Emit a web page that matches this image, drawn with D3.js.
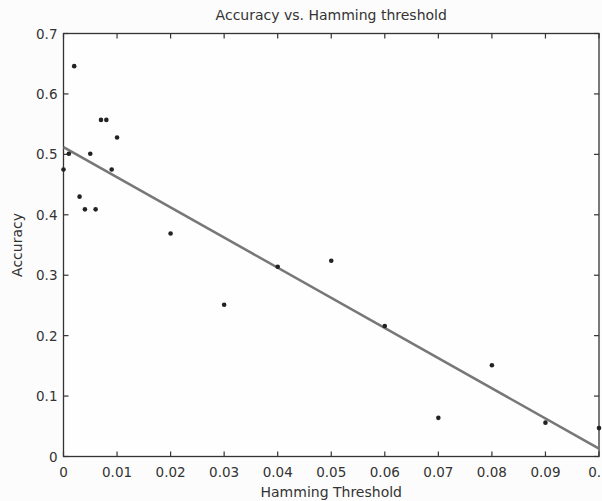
<!DOCTYPE html>
<html>
<head>
<meta charset="utf-8">
<script src="https://cdn.jsdelivr.net/npm/d3@7"></script>
<style>
body{margin:0;background:#fcfcfc;}
svg{display:block;}
text{font-family:"DejaVu Sans",sans-serif;fill:#333;}
</style>
</head>
<body>
<svg></svg>
<script>
// data
var thresholds = [0,0.001,0.002,0.003,0.004,0.005,0.006,0.007,0.008,0.009,0.01,
                  0.02,0.03,0.04,0.05,0.06,0.07,0.08,0.09,0.1];
var accuracy = [0.475,0.501,0.646,0.430,0.409,0.501,0.409,0.557,0.557,0.475,0.528,
                0.369,0.251,0.314,0.324,0.216,0.064,0.151,0.056,0.047];
// fitted line endpoints
var fitX = [0, 0.1];
var fitY = [0.512, 0.013];
var xTicks = [0,0.01,0.02,0.03,0.04,0.05,0.06,0.07,0.08,0.09,0.1];
var yTicks = [0,0.1,0.2,0.3,0.4,0.5,0.6,0.7];

var width=602, height=501;
var svg = d3.select("svg")
    .attr("width",width)
    .attr("height",height);

var pLeft=63.5, pRight=599, pTop=33.5, pBottom=456.5;
var x = d3.scaleLinear().domain([0,0.1]).range([pLeft,pRight]);
var y = d3.scaleLinear().domain([0,0.7]).range([pBottom,pTop]);

var fmt = function(d){return d===0 ? "0" : d3.format(".2~f")(d);};

// box
svg.append("rect")
    .attr("x",pLeft).attr("y",pTop)
    .attr("width",pRight-pLeft).attr("height",pBottom-pTop)
    .attr("fill","#fefefe")
    .attr("stroke","#333")
    .attr("stroke-width",1.3);

// ticks on all four sides
var tl=5;
xTicks.forEach(function(t){
    svg.append("line").attr("x1",x(t)).attr("x2",x(t)).attr("y1",pBottom).attr("y2",pBottom-tl)
        .attr("stroke","#333").attr("stroke-width",1.2);
    svg.append("line").attr("x1",x(t)).attr("x2",x(t)).attr("y1",pTop).attr("y2",pTop+tl)
        .attr("stroke","#333").attr("stroke-width",1.2);
    svg.append("text").attr("x",x(t)).attr("y",pBottom+20)
        .attr("text-anchor","middle").attr("font-size",13.5)
        .text(fmt(t));
});
yTicks.forEach(function(t){
    svg.append("line").attr("x1",pLeft).attr("x2",pLeft+tl).attr("y1",y(t)).attr("y2",y(t))
        .attr("stroke","#333").attr("stroke-width",1.2);
    svg.append("line").attr("x1",pRight).attr("x2",pRight-tl).attr("y1",y(t)).attr("y2",y(t))
        .attr("stroke","#333").attr("stroke-width",1.2);
    svg.append("text").attr("x",pLeft-6).attr("y",y(t)+5)
        .attr("text-anchor","end").attr("font-size",13.5)
        .text(fmt(t));
});

// fit line
svg.append("line")
    .attr("x1",x(fitX[0])).attr("y1",y(fitY[0]))
    .attr("x2",x(fitX[1])).attr("y2",y(fitY[1]))
    .attr("stroke","#777").attr("stroke-width",2.5);

// points
svg.append("g").selectAll("circle")
    .data(thresholds)
    .enter().append("circle")
    .attr("cx",function(d){return x(d);})
    .attr("cy",function(d,i){return y(accuracy[i]);})
    .attr("r",2.3)
    .attr("fill","#222");

// labels
svg.append("text").attr("x",(pLeft+pRight)/2).attr("y",20)
    .attr("text-anchor","middle").attr("font-size",14)
    .text("Accuracy vs. Hamming threshold");
svg.append("text").attr("x",(pLeft+pRight)/2).attr("y",497)
    .attr("text-anchor","middle").attr("font-size",14)
    .text("Hamming Threshold");
svg.append("text")
    .attr("transform","translate(22,"+((pTop+pBottom)/2)+") rotate(-90)")
    .attr("text-anchor","middle").attr("font-size",14)
    .text("Accuracy");
</script>
</body>
</html>
